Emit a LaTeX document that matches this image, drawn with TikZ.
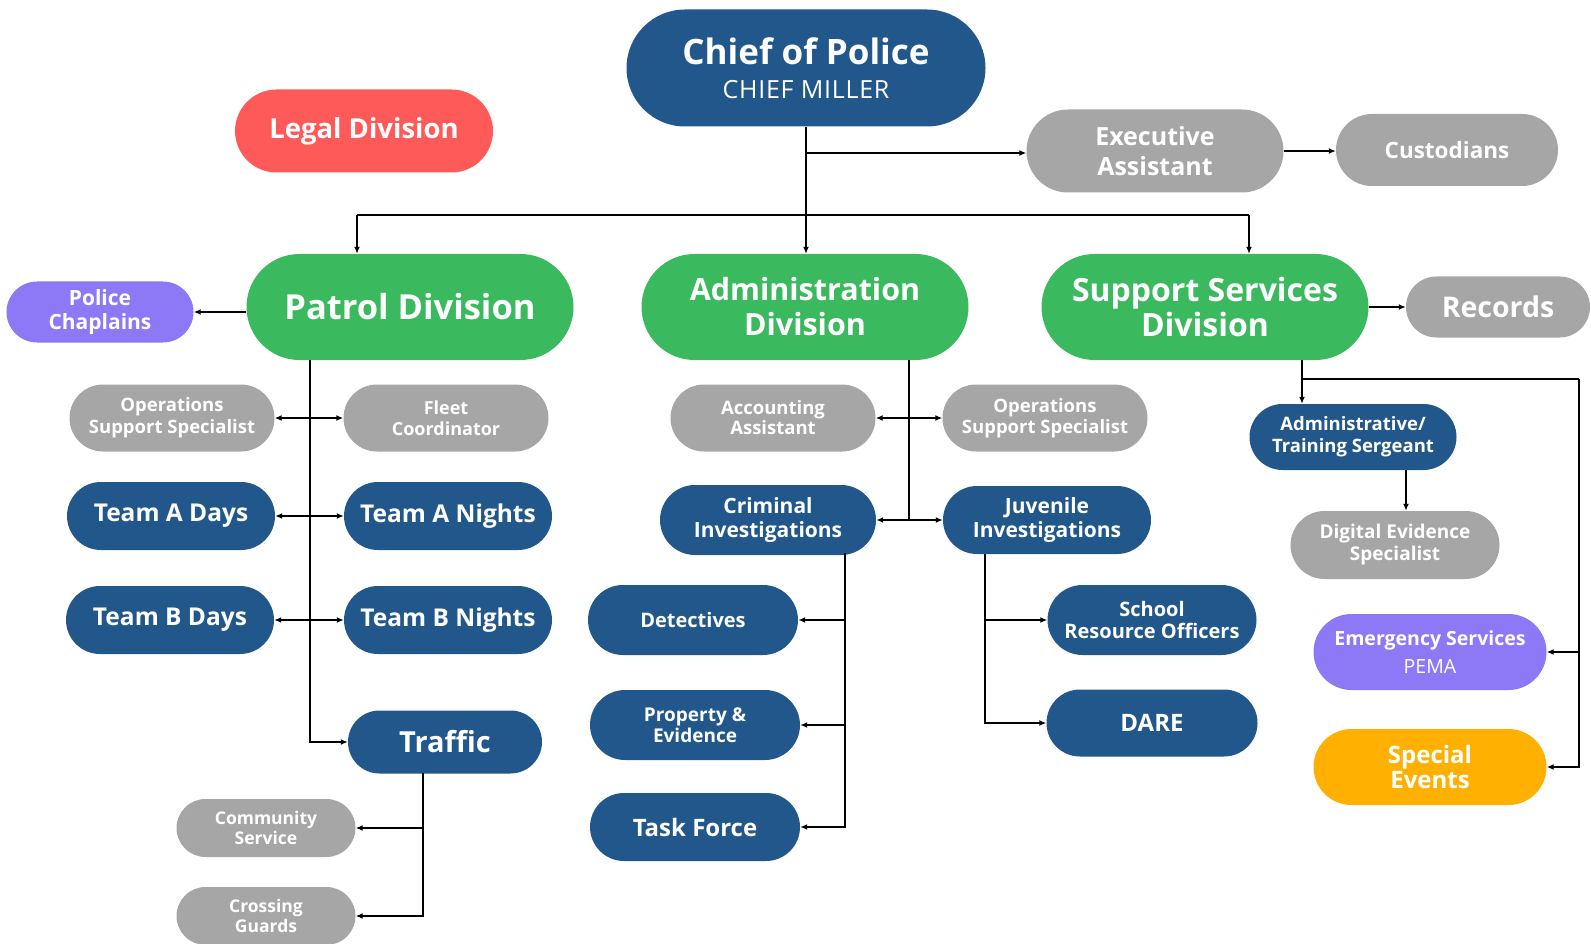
\documentclass[tikz,border=0pt]{standalone}
\usepackage{fontspec}
\setmainfont{Open Sans}
\usetikzlibrary{shapes.misc,arrows.meta}
\definecolor{dblue}{RGB}{33,87,138}
\definecolor{dgreen}{RGB}{59,185,94}
\definecolor{dgrey}{RGB}{166,166,166}
\definecolor{dpurple}{RGB}{141,121,246}
\definecolor{dorange}{RGB}{255,176,0}
\definecolor{dred}{RGB}{255,90,90}
\newcommand\fsz[2]{\fontsize{#1pt}{#2pt}\selectfont\bfseries}
\newcommand\fsr[2]{\fontsize{#1pt}{#2pt}\selectfont\mdseries}
\tikzset{
  pill/.style={rounded rectangle, inner sep=0pt, text=white, align=center},
  blue/.style={pill, fill=dblue},
  green/.style={pill, fill=dgreen},
  grey/.style={pill, fill=dgrey},
  purple/.style={pill, fill=dpurple},
  line/.style={line width=1.8pt, draw=black},
  conn/.style={line, -{Latex[length=7pt,width=6pt]}},
  dconn/.style={line, {Latex[length=7pt,width=6pt]}-{Latex[length=7pt,width=6pt]}},
}
\begin{document}
\begin{tikzpicture}[x=1pt,y=-1pt]
\useasboundingbox (0,0) rectangle (1591,944);
% top level
\node[blue, minimum width=359pt, minimum height=117pt, font=\fsz{35}{34}] (chief) at (806,68)
  {Chief of Police\\{\fsr{25}{34}\addfontfeatures{LetterSpace=3}CHIEF MILLER}};
\node[pill, fill=dred, minimum width=258pt, minimum height=83pt, font=\fsz{27.5}{30}] (legal) at (364,131) {Legal Division};
\node[grey, minimum width=257pt, minimum height=83pt, font=\fsz{25}{30}] (exec) at (1155,151) {Executive\\Assistant};
\node[grey, minimum width=222pt, minimum height=72pt, font=\fsz{22.5}{26}] (cust) at (1447,150) {Custodians};
% divisions
\node[green, minimum width=327pt, minimum height=106pt, font=\fsz{34.5}{36}] (patrol) at (410,307) {Patrol Division};
\node[green, minimum width=327pt, minimum height=106pt, font=\fsz{30.5}{35}] (admin) at (805,307) {Administration\\Division};
\node[green, minimum width=327pt, minimum height=106pt, font=\fsz{32}{35}] (support) at (1205,307) {Support Services\\Division};
\node[grey, minimum width=184pt, minimum height=61pt, font=\fsz{28.5}{30}] (records) at (1498,307) {Records};
\node[purple, minimum width=187pt, minimum height=61pt, font=\fsz{21}{24}] (chap) at (100,312) {Police\\Chaplains};
% patrol
\node[grey, minimum width=205pt, minimum height=67pt, font=\fsz{18.5}{22}] (ops1) at (172,418) {Operations\\Support Specialist};
\node[grey, minimum width=205pt, minimum height=67pt, font=\fsz{18}{21}] (fleet) at (446,418) {Fleet\\Coordinator};
\node[blue, minimum width=208pt, minimum height=68pt, font=\fsz{24.5}{26}] (tad) at (171,516) {Team A Days};
\node[blue, minimum width=208pt, minimum height=68pt, font=\fsz{24.5}{26}] (tan) at (448,516) {Team A Nights};
\node[blue, minimum width=208pt, minimum height=68pt, font=\fsz{24.5}{26}] (tbd) at (170,620) {Team B Days};
\node[blue, minimum width=208pt, minimum height=68pt, font=\fsz{24.5}{26}] (tbn) at (448,620) {Team B Nights};
\node[blue, minimum width=194pt, minimum height=63pt, font=\fsz{29}{30}] (traffic) at (445,742) {Traffic};
\node[grey, minimum width=179pt, minimum height=58pt, font=\fsz{17.5}{20}] (comm) at (266,828) {Community\\Service};
\node[grey, minimum width=179pt, minimum height=58pt, font=\fsz{17.5}{20}] (cross) at (266,916) {Crossing\\Guards};
% administration
\node[grey, minimum width=205pt, minimum height=67pt, font=\fsz{18.5}{20}] (acct) at (773,418) {Accounting\\Assistant};
\node[grey, minimum width=205pt, minimum height=67pt, font=\fsz{18.5}{21}] (ops2) at (1045,418) {Operations\\Support Specialist};
\node[blue, minimum width=216pt, minimum height=70pt, font=\fsz{21}{24}] (crim) at (768,520) {Criminal\\Investigations};
\node[blue, minimum width=208pt, minimum height=68pt, font=\fsz{21}{24}] (juv) at (1047,520) {Juvenile\\Investigations};
\node[blue, minimum width=210pt, minimum height=70pt, font=\fsz{20}{22}] (det) at (693,620) {Detectives};
\node[blue, minimum width=210pt, minimum height=70pt, font=\fsz{19}{21}] (prop) at (695,725) {Property \&\\Evidence};
\node[blue, minimum width=210pt, minimum height=68pt, font=\fsz{24}{26}] (task) at (695,827) {Task Force};
\node[blue, minimum width=209pt, minimum height=70pt, font=\fsz{20}{22}] (sro) at (1152,620) {School\\Resource Officers};
\node[blue, minimum width=211pt, minimum height=67pt, font=\fsz{24}{26}] (dare) at (1152,723) {DARE};
% support
\node[blue, minimum width=207pt, minimum height=66pt, font=\fsz{18.5}{22}] (atsgt) at (1353,437) {Administrative/\\Training Sergeant};
\node[grey, minimum width=209pt, minimum height=68pt, font=\fsz{19}{22}] (dig) at (1395,545) {Digital Evidence\\Specialist};
\node[purple, minimum width=233pt, minimum height=76pt, font=\fsz{19.5}{28}] (emerg) at (1430,652)
  {Emergency Services\\{\fsr{19.5}{28}PEMA}};
\node[pill, fill=dorange, minimum width=233pt, minimum height=76pt, font=\fsz{24}{25}] (spec) at (1430,767) {Special\\Events};
% connectors: top
\coordinate (cj) at (806,153);
\draw[conn] (chief.south) -- (chief.south |- admin.north);
\draw[conn] (cj) -- (cj -| exec.west);
\draw[conn] (exec.east) -- (exec.east -| cust.west);
\coordinate (barL) at (357,215);
\coordinate (barR) at (1249,215);
\draw[line] (barL) -- (barR);
\draw[conn] (barL) -- (barL |- patrol.north);
\draw[conn] (barR) -- (barR |- support.north);
% patrol
\draw[conn] (chap.east -| patrol.west) -- (chap.east);
\coordinate (pv) at (310,360);
\draw[conn] (pv) |- (traffic.west);
\draw[dconn] (ops1.east) -- (fleet.west);
\draw[dconn] (tad.east) -- (tan.west);
\draw[dconn] (tbd.east) -- (tbn.west);
\coordinate (tv) at (423,773);
\draw[conn] (tv) |- (comm.east);
\draw[conn] (tv) |- (cross.east);
% administration
\coordinate (av) at (909,360);
\coordinate (avb) at (909,520);
\draw[line] (av) -- (avb);
\draw[dconn] (acct.east) -- (ops2.west);
\draw[dconn] (crim.east) -- (juv.west);
\coordinate (cv) at (845,553);
\draw[conn] (cv) |- (det.east);
\draw[conn] (cv) |- (prop.east);
\draw[conn] (cv) |- (task.east);
\coordinate (jv) at (985,554);
\draw[conn] (jv) |- (sro.west);
\draw[conn] (jv) |- (dare.west);
% support
\draw[conn] (support.east) -- (records.west);
\coordinate (sv) at (1302,360);
\coordinate (sj) at (1302,379);
\coordinate (sr) at (1579,379);
\draw[conn] (sv) -- (sv |- atsgt.north);
\draw[line] (sj) -- (sr);
\draw[conn] (sr) |- (emerg.east);
\draw[conn] (sr) |- (spec.east);
\coordinate (dv) at (1406,470);
\draw[conn] (dv) -- (dv |- dig.north);
\end{tikzpicture}
\end{document}
